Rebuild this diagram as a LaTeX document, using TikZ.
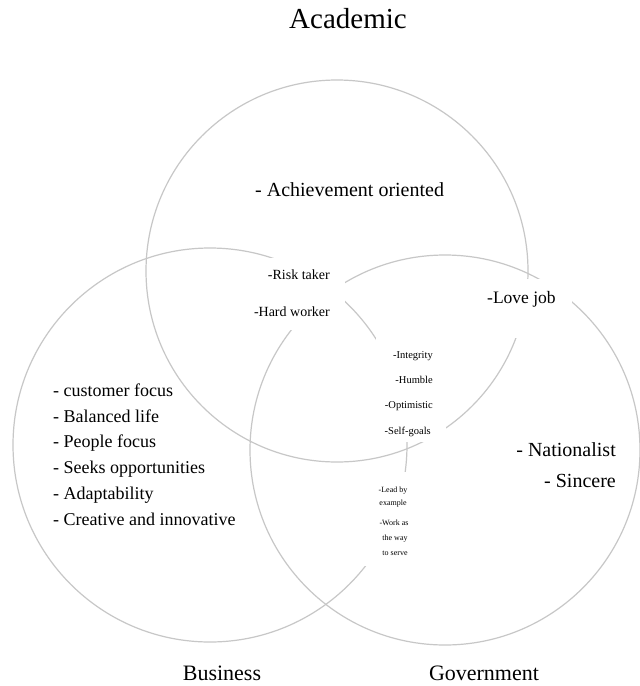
\documentclass[tikz,border=0pt]{standalone}
\usepackage{fontspec}
\setmainfont{Liberation Serif}
\begin{document}
\begin{tikzpicture}[x=1pt,y=-1pt,
  ring/.style={draw=black!22, line width=1.2pt},
  cover/.style={fill=white, draw=none},
  txt/.style={inner sep=0pt, text=black},
  title/.style={txt, font=\fontsize{29}{30}\selectfont},
  foot/.style={txt, font=\fontsize{22}{24}\selectfont},
  big/.style={txt, font=\fontsize{20}{22}\selectfont},
  mid/.style={txt, font=\fontsize{18}{19}\selectfont},
  lovej/.style={txt, font=\fontsize{17.5}{19}\selectfont},
  small/.style={txt, font=\fontsize{14}{16}\selectfont},
  tiny/.style={txt, font=\fontsize{10.5}{12}\selectfont},
  micro/.style={txt, font=\fontsize{8}{9}\selectfont}]
\useasboundingbox[fill=white] (0,0) rectangle (640,686);
% circles
\draw[ring] (337,271) circle[radius=191pt];
\draw[ring] (210,445) circle[radius=197pt];
\draw[ring] (445,450) circle[radius=195pt];
% white text boxes hiding parts of the circles
\fill[cover] (238,258) rectangle (345,330);
\fill[cover] (470,279) rectangle (572,338);
\fill[cover] (376,338) rectangle (446,442);
\fill[cover] (364,472) rectangle (430,566);
% titles
\node[title, anchor=base] (acad) at (348,28) {Academic};
\node[foot, anchor=base] (bus) at (222,680) {Business};
\node[foot, anchor=base] (gov) at (484,680) {Government};
% academic
\node[big, anchor=base west] (ach) at (255,196) {- Achievement oriented};
% business
\node[mid, anchor=base west] (b1) at (53,396) {- customer focus};
\node[mid, anchor=base west] (b2) at (53,422) {- Balanced life};
\node[mid, anchor=base west] (b3) at (53,447) {- People focus};
\node[mid, anchor=base west] (b4) at (53,473) {- Seeks opportunities};
\node[mid, anchor=base west] (b5) at (53,499) {- Adaptability};
\node[mid, anchor=base west] (b6) at (53,525) {- Creative and innovative};
% government
\node[big, anchor=base east] (g1) at (616,456) {- Nationalist};
\node[big, anchor=base east] (g2) at (616,487) {- Sincere};
% academic & government
\node[lovej, anchor=base west] (ag) at (487,303) {-Love job};
% academic & business
\node[small, anchor=base east] (ab1) at (330,279) {-Risk taker};
\node[small, anchor=base east] (ab2) at (330,316) {-Hard worker};
% all three
\node[tiny, anchor=base east] (c1) at (433,358) {-Integrity};
\node[tiny, anchor=base east] (c2) at (433,383) {-Humble};
\node[tiny, anchor=base east] (c3) at (433,408) {-Optimistic};
\node[tiny, anchor=base east] (c4) at (431,434) {-Self-goals};
% business & government
\node[micro, anchor=base] (bg1) at (393,492) {-Lead by};
\node[micro, anchor=base] (bg2) at (393,505) {example};
\node[micro, anchor=base] (bg3) at (394,525) {-Work as};
\node[micro, anchor=base] (bg4) at (395,540) {the way};
\node[micro, anchor=base] (bg5) at (395,555) {to serve};
\end{tikzpicture}
\end{document}
